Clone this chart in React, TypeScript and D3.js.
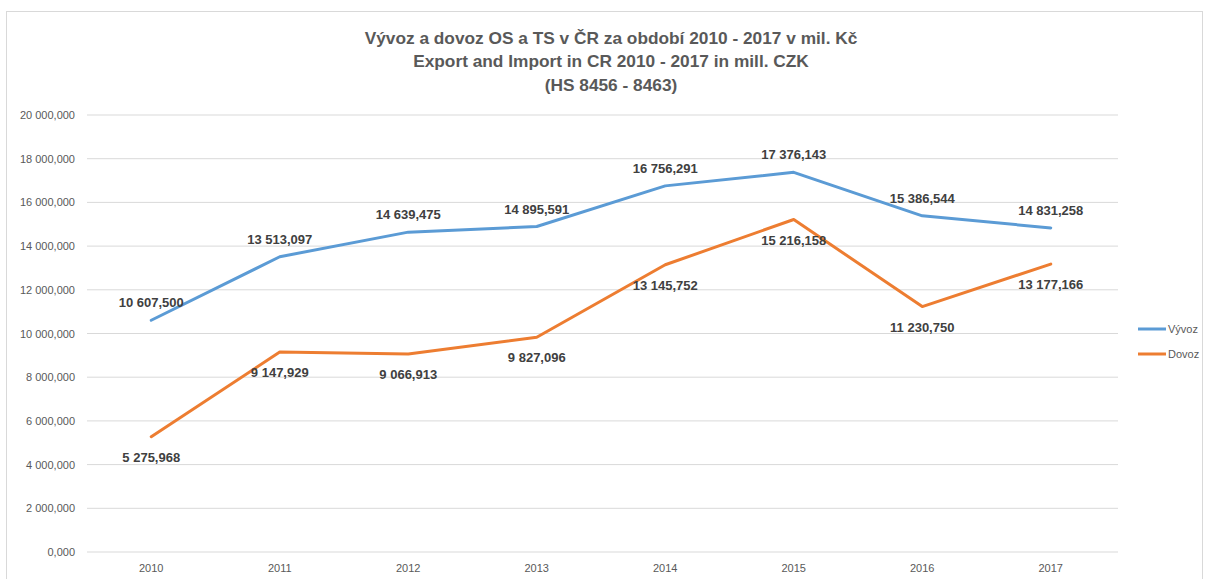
import React from "react";
import * as d3 from "d3";

const years = ["2010", "2011", "2012", "2013", "2014", "2015", "2016", "2017"];
const vyvoz = [10607.5, 13513.097, 14639.475, 14895.591, 16756.291, 17376.143, 15386.544, 14831.258];
const dovoz = [5275.968, 9147.929, 9066.913, 9827.096, 13145.752, 15216.158, 11230.75, 13177.166];
const yTicks = [0, 2000, 4000, 6000, 8000, 10000, 12000, 14000, 16000, 18000, 20000];
const titleLines = [
  "Vývoz a dovoz OS a TS v ČR za období 2010 - 2017 v mil. Kč",
  "Export and Import in CR 2010 - 2017 in mill. CZK",
  "(HS 8456 - 8463)",
];
const seriesNames = ["Vývoz", "Dovoz"];
const colors = ["#5B9BD5", "#ED7D31"];

const loc = d3.formatLocale({ decimal: ",", thousands: " ", grouping: [3], currency: ["", " Kč"] });
const fmt = loc.format(",.3f");

export default function App() {
  const W = 1206, H = 579;
  const x = d3.scaleBand<string>().domain(years).range([87, 1115]);
  const y = d3.scaleLinear().domain([0, 20000]).range([552, 115]);
  const line = d3
    .line<number>()
    .x((_, i) => (x(years[i]) as number) + x.bandwidth() / 2)
    .y((d) => y(d));
  const font = "'Liberation Sans', Arial, sans-serif";
  const series = [vyvoz, dovoz];
  return (
    <svg width={W} height={H} style={{ position: "absolute", left: 0, top: 0, background: "#fff" }} fontFamily={font}>
      <rect x={6.5} y={11.5} width={1196} height={600} fill="#fff" stroke="#d9d9d9" />
      {titleLines.map((t, i) => (
        <text key={i} x={611} y={43.5 + i * 23.5} textAnchor="middle" fontSize={17.3} fontWeight="bold" fill="#595959">
          {t}
        </text>
      ))}
      {yTicks.map((t) => (
        <g key={t}>
          <line x1={87} x2={1118} y1={y(t)} y2={y(t)} stroke="#d9d9d9" strokeWidth={1} />
          <text x={75} y={y(t) + 4} textAnchor="end" fontSize={11} fill="#595959">
            {fmt(t)}
          </text>
        </g>
      ))}
      {years.map((yr) => (
        <text key={yr} x={(x(yr) as number) + x.bandwidth() / 2} y={572} textAnchor="middle" fontSize={11} fill="#595959">
          {yr}
        </text>
      ))}
      {series.map((s, si) => (
        <path key={si} d={line(s) as string} fill="none" stroke={colors[si]} strokeWidth={3} strokeLinejoin="round" strokeLinecap="round" />
      ))}
      {series.map((s, si) =>
        s.map((v, i) => (
          <text
            key={si + "-" + i}
            x={(x(years[i]) as number) + x.bandwidth() / 2}
            y={y(v) + (si === 0 ? -13 : 25)}
            textAnchor="middle"
            fontSize={13}
            fontWeight="bold"
            fill="#404040"
          >
            {fmt(v)}
          </text>
        ))
      )}
      {seriesNames.map((n, i) => (
        <g key={n}>
          <line x1={1138} x2={1166} y1={329 + i * 25} y2={329 + i * 25} stroke={colors[i]} strokeWidth={3} />
          <text x={1168} y={333 + i * 25} fontSize={11} fill="#595959">
            {n}
          </text>
        </g>
      ))}
    </svg>
  );
}
